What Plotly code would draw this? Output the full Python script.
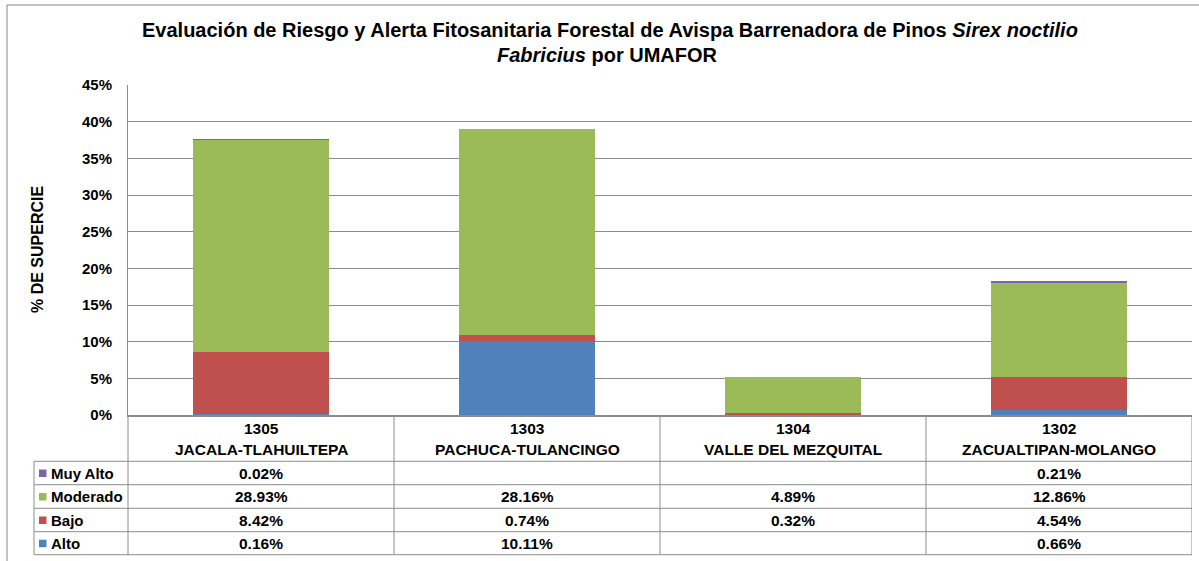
import plotly.graph_objects as go

# ---------------- data ----------------
codes = ["1305", "1303", "1304", "1302"]
names = ["JACALA-TLAHUILTEPA", "PACHUCA-TULANCINGO", "VALLE DEL MEZQUITAL", "ZACUALTIPAN-MOLANGO"]
alto = [0.16, 10.11, None, 0.66]
bajo = [8.42, 0.74, 0.32, 4.54]
moderado = [28.93, 28.16, 4.89, 12.86]
muy_alto = [0.02, None, None, 0.21]
y_ticks = [0, 5, 10, 15, 20, 25, 30, 35, 40, 45]

series = [("Alto", alto, "#4F81BD"), ("Bajo", bajo, "#C0504D"),
          ("Moderado", moderado, "#9BBB59"), ("Muy Alto", muy_alto, "#8064A2")]
table_order = ["Muy Alto", "Moderado", "Bajo", "Alto"]

W, H = 1199, 561
L, R, T, B = 128, 7, 85, 146
PW, PH = W - L - R, H - T - B
FONT = "Liberation Sans, Arial, sans-serif"
GRID = "#8C8C8C"

def py(p):  # pixel y -> paper y
    return (H - B - p) / PH

def px(p):  # pixel x -> paper x
    return (p - L) / PW

xs = list(range(len(codes)))
fig = go.Figure()
for name, vals, col in series:
    fig.add_trace(go.Bar(x=xs, y=[v if v is not None else 0 for v in vals], name=name,
                         marker=dict(color=col, line=dict(width=0)), width=0.51,
                         showlegend=False))

shapes = []
ann = []
# outer chart border (top and left visible)
shapes.append(dict(type="line", xref="paper", yref="paper", x0=px(7), x1=px(1210), y0=py(5), y1=py(5),
                   line=dict(color="#888888", width=1)))
shapes.append(dict(type="line", xref="paper", yref="paper", x0=px(7), x1=px(7), y0=py(5), y1=py(570),
                   line=dict(color="#888888", width=1)))

# table geometry
hdr_bot = 461.3
row_lines = [461.3, 484.7, 508.3, 531.7, 554.7]
for yl in row_lines:
    shapes.append(dict(type="line", xref="paper", yref="paper", x0=px(34), x1=1, y0=py(yl), y1=py(yl),
                       line=dict(color=GRID, width=1)))
# left of label column
shapes.append(dict(type="line", xref="paper", yref="paper", x0=px(34), x1=px(34), y0=py(hdr_bot), y1=py(554.7),
                   line=dict(color=GRID, width=1)))
# plot-left line continuing through table
shapes.append(dict(type="line", xref="paper", yref="paper", x0=0, x1=0, y0=py(415.3), y1=py(554.7),
                   line=dict(color=GRID, width=1)))
# column separators via category axis
for i in range(len(codes)):
    shapes.append(dict(type="line", xref="x", yref="paper", x0=i + 0.5, x1=i + 0.5, y0=py(415.3), y1=py(554.7),
                       line=dict(color=GRID, width=1)))

tf = dict(family=FONT, size=15, color="#000000")
tfv = dict(family=FONT, size=15.5, color="#000000")
for i in xs:
    ann.append(dict(x=i, y=py(428), xref="x", yref="paper", text=f"<b>{codes[i]}</b>", showarrow=False,
                    font=tfv, xanchor="center", yanchor="middle"))
    ann.append(dict(x=i, y=py(450), xref="x", yref="paper", text=f"<b>{names[i]}</b>", showarrow=False,
                    font=tfv, xanchor="center", yanchor="middle"))

lookup = {n: (v, c) for n, v, c in series}
for r, name in enumerate(table_order):
    vals, col = lookup[name]
    yc = (row_lines[r] + row_lines[r + 1]) / 2
    shapes.append(dict(type="rect", xref="paper", yref="paper", x0=px(39), x1=px(46.5), y0=py(yc - 3.5), y1=py(yc + 4),
                       fillcolor=col, line=dict(width=0)))
    ann.append(dict(x=px(49), y=py(yc), xref="paper", yref="paper", xanchor="left", yanchor="middle",
                    text=f"<b>{name}</b>", showarrow=False, font=tf))
    for i, v in enumerate(vals):
        if v is None:
            continue
        ann.append(dict(x=i, y=py(yc), xref="x", yref="paper", text=f"<b>{v:.2f}%</b>", showarrow=False,
                        font=tfv, xanchor="center", yanchor="middle"))

# y axis title
ann.append(dict(x=px(37), y=0.5, xref="paper", yref="paper", text="<b>% DE SUPERCIE</b>", textangle=-90,
                showarrow=False, font=dict(family=FONT, size=16, color="#000000"),
                xanchor="center", yanchor="middle"))
# title
ttf = dict(family=FONT, size=20, color="#000000")
ann.append(dict(x=px(610), y=py(30), xref="paper", yref="paper",
                text="<b>Evaluación de Riesgo y Alerta Fitosanitaria Forestal de Avispa Barrenadora de Pinos <i>Sirex noctilio</i></b>",
                showarrow=False, font=ttf, xanchor="center", yanchor="middle"))
ann.append(dict(x=px(607), y=py(55), xref="paper", yref="paper",
                text="<b><i>Fabricius</i> por UMAFOR</b>",
                showarrow=False, font=ttf, xanchor="center", yanchor="middle"))

fig.update_layout(
    width=W, height=H, barmode="stack", bargap=0.49,
    margin=dict(l=L, r=R, t=T, b=B, autoexpand=False),
    paper_bgcolor="white", plot_bgcolor="white",
    shapes=shapes, annotations=ann,
    xaxis=dict(range=[-0.5, len(codes) - 0.5], showticklabels=False, showgrid=False, zeroline=False,
               showline=True, linecolor=GRID, linewidth=1.5, ticks=""),
    yaxis=dict(range=[0, 45], tickvals=y_ticks, ticktext=[f"<b>{t}%</b>" for t in y_ticks],
               showgrid=True, gridcolor=GRID, gridwidth=1, zeroline=False,
               showline=True, linecolor=GRID, linewidth=1, ticks="", ticklabelstandoff=12,
               tickfont=tf),
)
fig.write_html("out.html", config={"displayModeBar": False},
               post_script="document.body.style.margin='0';document.body.style.overflow='hidden';")
